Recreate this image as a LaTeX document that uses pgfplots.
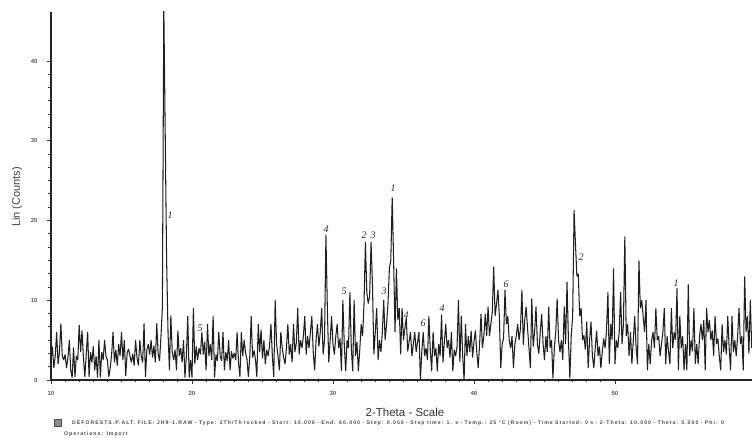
\documentclass[border=0pt]{standalone}
\usepackage{pgfplots}
\usepackage{fontspec}
\setmainfont{Liberation Sans}
\newfontfamily\numfont{Liberation Serif}
\newfontfamily\footfont[LetterSpace=19]{Liberation Sans}
\pgfplotsset{compat=1.18}
\begin{document}
\begin{tikzpicture}[x=1pt,y=1pt]
\useasboundingbox (0,0) rectangle (752,438);
\begin{axis}[
  at={(51pt,58pt)},anchor=south west,
  scale only axis,width=701pt,height=368pt,
  xmin=10,xmax=59.72,ymin=0,ymax=46.14,
  axis x line=bottom,axis y line=left,
  axis line style={-,black!85,line width=1.1pt},
  xtick={10,20,30,40,50},ytick={0,10,20,30,40},
  minor x tick num=9,minor y tick num=5,
  tick align=outside,
  tick style={black!80,line width=0.8pt},
  major tick length=4pt,minor tick length=2.5pt,
  tick label style={font=\fontsize{6}{7}\selectfont\bfseries,text=black!65},
  /pgf/number format/assume math mode=true,
  yticklabel style={xshift=-6pt},
  xticklabel style={yshift=-4pt},
]
\addplot[black!88,line width=1.05pt,line join=miter,miter limit=3] coordinates {
(10.0,2.5)(10.1,4.2)(10.2,1.5)(10.3,3)(10.4,6)(10.5,2)(10.6,3.5)(10.7,7.1)(10.8,3)(10.9,2.5)
(11.0,3.2)(11.1,1.5)(11.2,2.8)(11.3,5)(11.4,1.2)(11.5,0.3)(11.6,4.1)(11.7,0.4)(11.8,3)(11.9,2.5)
(12.0,6.9)(12.1,3.5)(12.2,6.2)(12.3,2.8)(12.4,0.4)(12.5,3.2)(12.6,6)(12.7,0.4)(12.8,3.5)(12.9,2.2)
(13.0,4.2)(13.1,1.2)(13.2,3)(13.3,0.3)(13.4,5)(13.5,0.3)(13.6,3.5)(13.7,2.5)(13.8,5)(13.9,3)
(14.0,2.5)(14.1,0.4)(14.2,1.5)(14.3,3.2)(14.4,6)(14.5,2.2)(14.6,3.8)(14.7,1.8)(14.8,4.5)(14.9,3)
(15.0,6)(15.1,2.5)(15.2,5)(15.3,0.5)(15.4,3.4)(15.5,3.9)(15.6,3)(15.7,2.2)(15.8,3.3)(15.9,1.8)
(16.0,5)(16.1,2.8)(16.2,1.8)(16.3,5)(16.4,3)(16.5,2.2)(16.6,7.1)(16.7,0.4)(16.8,3.8)(16.9,4.5)
(17.0,3.2)(17.1,5)(17.2,2.8)(17.3,4.3)(17.4,2.2)(17.5,7.1)(17.6,3.3)(17.7,2.4)(17.8,5.5)(17.9,9.1)
(18.0,47)(18.1,31)(18.2,15)(18.3,6)(18.4,1.2)(18.5,8.1)(18.6,3.5)(18.7,2.5)(18.8,3.8)(18.9,1.2)
(19.0,6.2)(19.1,3)(19.2,4)(19.3,2.2)(19.4,5)(19.5,0.3)(19.6,3)(19.7,8)(19.8,0.3)(19.9,2.5)
(20.0,0.3)(20.1,9)(20.2,2)(20.3,4.2)(20.4,2.5)(20.5,4)(20.6,3.2)(20.7,6)(20.8,3.2)(20.9,4.8)
(21.0,1.2)(21.1,7)(21.2,3)(21.3,4.5)(21.4,2.5)(21.5,8)(21.6,0.3)(21.7,3.2)(21.8,2.4)(21.9,6)
(22.0,3)(22.1,2.4)(22.2,6)(22.3,1.2)(22.4,3.5)(22.5,2.4)(22.6,5)(22.7,1.2)(22.8,3.6)(22.9,2.7)
(23.0,3.4)(23.1,2.5)(23.2,6)(23.3,2.2)(23.4,0.4)(23.5,6)(23.6,3)(23.7,5)(23.8,3.4)(23.9,2.6)
(24.0,0.4)(24.1,3)(24.2,8)(24.3,2.8)(24.4,3.7)(24.5,2.6)(24.6,0.4)(24.7,7)(24.8,3.5)(24.9,6.3)
(25.0,2.7)(25.1,5)(25.2,2)(25.3,3.8)(25.4,3)(25.5,4.3)(25.6,7)(25.7,3)(25.8,0.4)(25.9,10)
(26.0,4.5)(26.1,3)(26.2,1.2)(26.3,6)(26.4,4)(26.5,2.8)(26.6,2)(26.7,4)(26.8,7)(26.9,3.2)
(27.0,4.5)(27.1,2.2)(27.2,7)(27.3,3.5)(27.4,4.6)(27.5,9)(27.6,3.2)(27.7,5)(27.8,4)(27.9,5.5)
(28.0,8)(28.1,3.2)(28.2,5.5)(28.3,4)(28.4,6)(28.5,8)(28.6,3.5)(28.7,1.2)(28.8,5)(28.9,7)
(29.0,4.2)(29.1,6)(29.2,9)(29.3,3.2)(29.4,5)(29.5,18.2)(29.6,9)(29.7,2.2)(29.8,5)(29.9,8)
(30.0,4.5)(30.1,3.2)(30.2,5.5)(30.3,7)(30.4,4)(30.5,5.2)(30.6,1.1)(30.7,10)(30.8,4.5)(30.9,1.1)
(31.0,5)(31.1,4)(31.2,11)(31.3,4)(31.4,1.1)(31.5,10)(31.6,3)(31.7,4.8)(31.8,1.1)(31.9,3.8)
(32.0,7)(32.1,5.5)(32.2,9.5)(32.3,17.3)(32.4,11)(32.5,9.6)(32.6,10.5)(32.7,17.3)(32.8,12)(32.9,3.2)
(33.0,6)(33.1,9)(33.2,2.5)(33.3,5)(33.4,3.5)(33.5,6)(33.6,10)(33.7,5)(33.8,7)(33.9,9.5)
(34.0,14)(34.1,15)(34.2,22.9)(34.3,15)(34.4,6)(34.5,14)(34.6,7.5)(34.7,9)(34.8,3.2)(34.9,9)
(35.0,5)(35.1,6.5)(35.2,7.8)(35.3,3.6)(35.4,4.8)(35.5,6)(35.6,3)(35.7,4.5)(35.8,6)(35.9,3.5)
(36.0,4.8)(36.1,6)(36.2,0)(36.3,3.5)(36.4,6)(36.5,3)(36.6,4)(36.7,2.5)(36.8,8)(36.9,3.8)
(37.0,1.1)(37.1,6)(37.2,3)(37.3,4)(37.4,1.1)(37.5,4.5)(37.6,3)(37.7,8.2)(37.8,2.2)(37.9,4.8)
(38.0,7)(38.1,4)(38.2,5)(38.3,2.8)(38.4,6)(38.5,1.1)(38.6,3.8)(38.7,3)(38.8,4.2)(38.9,10)
(39.0,2.2)(39.1,8)(39.2,3)(39.3,0)(39.4,7)(39.5,3)(39.6,5.5)(39.7,3.5)(39.8,6.2)(39.9,2.8)
(40.0,4.8)(40.1,6.2)(40.2,3.5)(40.3,1.5)(40.4,4.5)(40.5,8.3)(40.6,4)(40.7,5.5)(40.8,8.3)(40.9,5.5)
(41.0,9.2)(41.1,5.5)(41.2,7)(41.3,8.5)(41.4,14.2)(41.5,8)(41.6,9.5)(41.7,11.3)(41.8,8)(41.9,1.5)
(42.0,4.5)(42.1,5.2)(42.2,11.3)(42.3,7)(42.4,8)(42.5,5)(42.6,4)(42.7,5.5)(42.8,1.5)(42.9,4.5)
(43.0,5.5)(43.1,7)(43.2,5)(43.3,6.5)(43.4,11.3)(43.5,4.4)(43.6,7.5)(43.7,9.2)(43.8,6.5)(43.9,4)
(44.0,1.5)(44.1,10.2)(44.2,4.2)(44.3,6)(44.4,9.2)(44.5,4.5)(44.6,3.3)(44.7,6)(44.8,8.3)(44.9,4.6)
(45.0,2.5)(45.1,5.5)(45.2,3.5)(45.3,9.2)(45.4,4)(45.5,5)(45.6,0.2)(45.7,4)(45.8,6)(45.9,10.2)
(46.0,5)(46.1,3.5)(46.2,5)(46.3,2.5)(46.4,9.2)(46.5,4.5)(46.6,12.3)(46.7,5)(46.8,0.2)(46.9,5.6)
(47.0,8)(47.1,21.3)(47.2,17)(47.3,13)(47.4,13.3)(47.5,8)(47.6,9)(47.7,5)(47.8,5.6)(47.9,3.8)
(48.0,7.3)(48.1,1.5)(48.2,5)(48.3,7.3)(48.4,3)(48.5,1.5)(48.6,4)(48.7,6.2)(48.8,3)(48.9,4.2)
(49.0,1.5)(49.1,3.5)(49.2,5.2)(49.3,4)(49.4,6.2)(49.5,11)(49.6,2)(49.7,7)(49.8,5)(49.9,14)
(50.0,2)(50.1,5)(50.2,4)(50.3,6)(50.4,11)(50.5,4.5)(50.6,7)(50.7,18)(50.8,5.5)(50.9,7)
(51.0,3)(51.1,6)(51.2,2)(51.3,5)(51.4,8)(51.5,4)(51.6,2)(51.7,15)(51.8,9)(51.9,10)
(52.0,8)(52.1,6)(52.2,10)(52.3,1.2)(52.4,4.5)(52.5,2)(52.6,5)(52.7,6)(52.8,4)(52.9,9)
(53.0,5)(53.1,5.5)(53.2,3)(53.3,4.5)(53.4,6)(53.5,9)(53.6,2)(53.7,5.5)(53.8,3.5)(53.9,2)
(54.0,9)(54.1,4)(54.2,6)(54.3,5)(54.4,11.5)(54.5,1.2)(54.6,8)(54.7,4)(54.8,5.5)(54.9,1.2)
(55.0,4.5)(55.1,1.2)(55.2,12)(55.3,3)(55.4,5)(55.5,3.6)(55.6,9)(55.7,2)(55.8,4.5)(55.9,2)
(56.0,5.5)(56.1,7)(56.2,5)(56.3,7.5)(56.4,1.2)(56.5,9)(56.6,6)(56.7,7.5)(56.8,5)(56.9,6.2)
(57.0,3)(57.1,8)(57.2,4.5)(57.3,5.2)(57.4,3)(57.5,1.2)(57.6,7)(57.7,3.5)(57.8,5)(57.9,3.2)
(58.0,8)(58.1,4)(58.2,1.2)(58.3,8)(58.4,3.5)(58.5,5)(58.6,3)(58.7,5.5)(58.8,9)(58.9,4.5)
(59.0,5.5)(59.1,1.2)(59.2,13)(59.3,6)(59.4,8)(59.5,3.3)(59.6,10)(59.7,4)
};
\end{axis}
% axis titles
\node[rotate=90,font=\fontsize{11}{13}\selectfont,text=black!75] at (17,241) {Lin (Counts)};
\node[font=\fontsize{11.5}{13}\selectfont,text=black!80] at (405,26) {2-Theta - Scale};
% peak labels
\foreach \t/\x/\y in {1/170/223,5/200/110,4/326/209,5/344/147,2/364/203,3/373/203,3/384/147,1/393/250,4/406/123,6/423/115,4/442/130,6/506/154,2/581/181,1/676/155}
  \node[font=\numfont\itshape\fontsize{10}{11}\selectfont,text=black!85] at (\x,\y) {\t};
% footer
\node[draw=black!70,fill=black!45,minimum size=7pt,inner sep=0pt] at (58,15) {};
\node[anchor=west,inner sep=0pt,font=\footfont\fontsize{5.2}{6}\selectfont\bfseries,text=black!70] at (72,15)
 {DEFORESTS.P.ALT. FILE: JH9-1.RAW - Type: 2Th/Th locked - Start: 10.000 - End: 60.000 - Step: 0.050 - Step time: 1. s - Temp.: 25 \textdegree C (Room) - Time Started: 0 s - 2-Theta: 10.000 - Theta: 5.000 - Phi: 0};
\node[anchor=west,inner sep=0pt,font=\footfont\fontsize{5.2}{6}\selectfont\bfseries,text=black!70] at (64,4) {Operations: Import};
\end{tikzpicture}
\end{document}
